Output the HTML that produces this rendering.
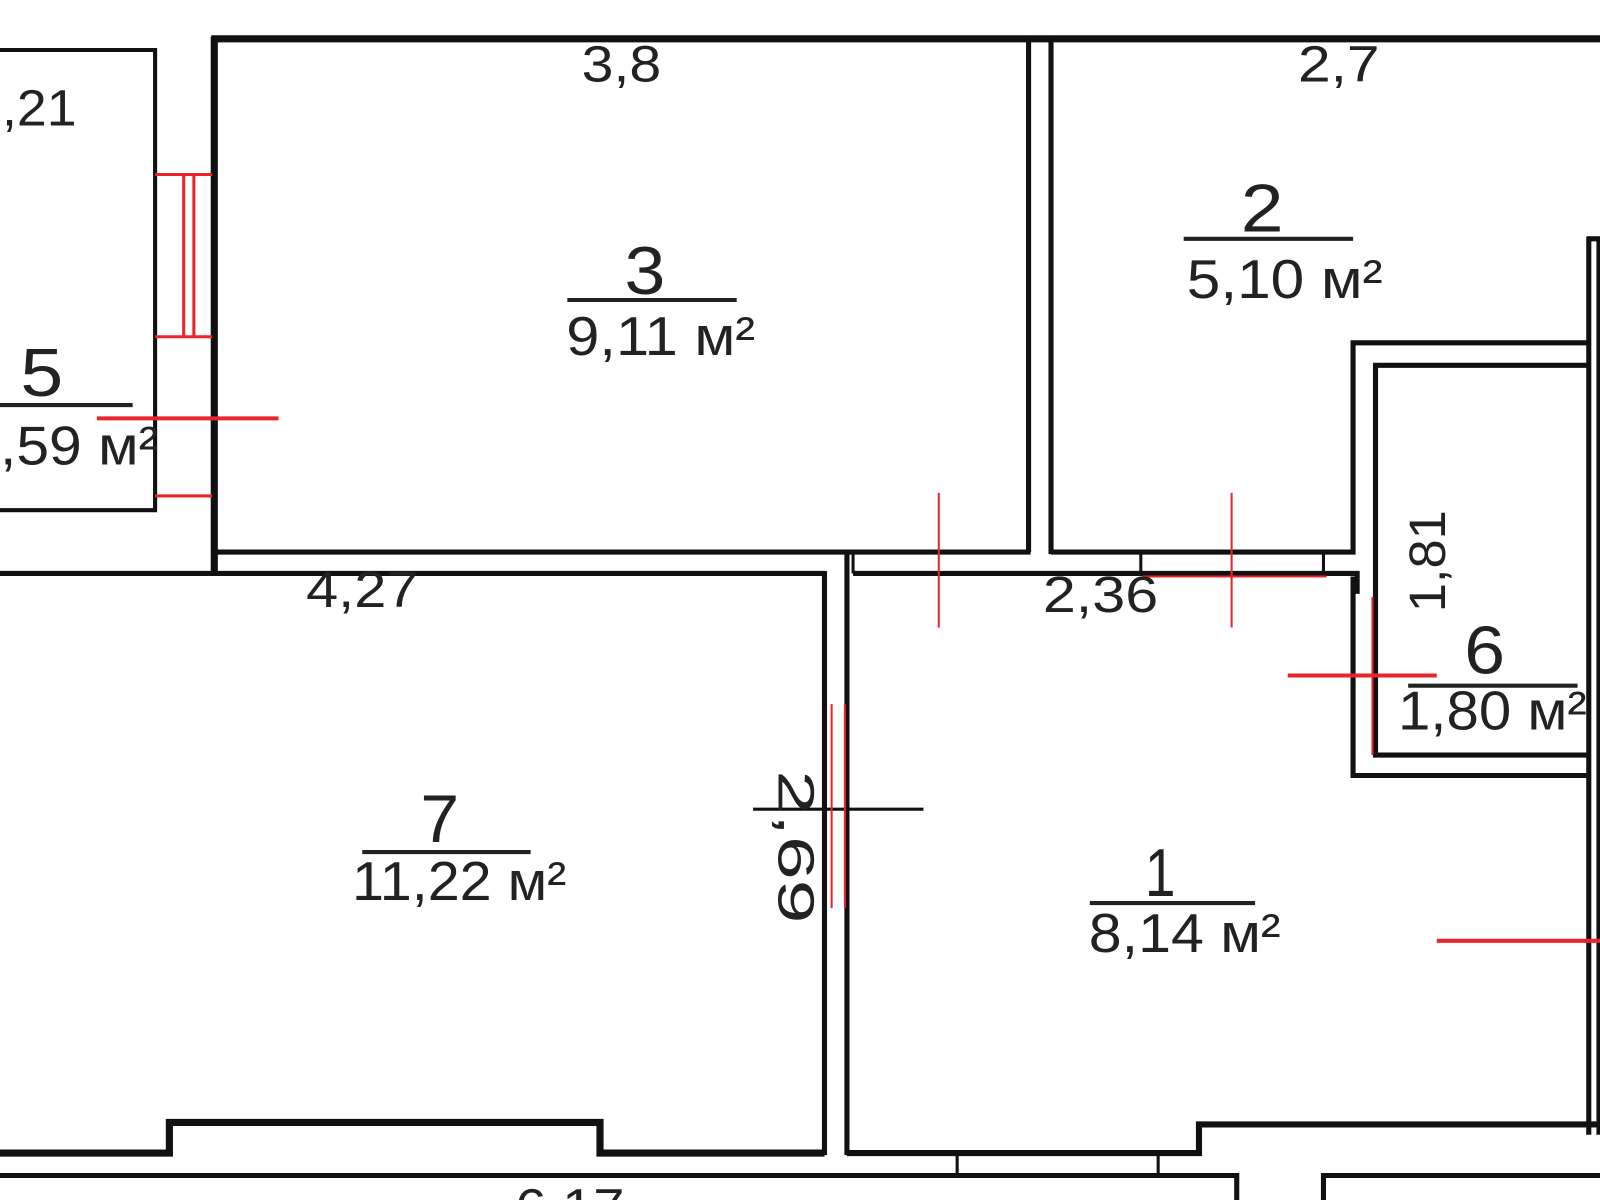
<!DOCTYPE html>
<html><head><style>
html,body{margin:0;padding:0;background:#fff;}
svg{display:block;}
text{font-family:"Liberation Sans",Arial,sans-serif;fill:#222;}
</style></head><body>
<svg width="1600" height="1200" viewBox="0 0 1568 1176" xmlns="http://www.w3.org/2000/svg">
<g stroke="#111" fill="none" stroke-width="5">
<line x1="207" y1="38" x2="1568" y2="38" stroke-width="7"/>
<line x1="210" y1="36" x2="210" y2="562" stroke-width="7"/>
<polyline points="0,49 152,49 152,500 0,500" stroke-width="4"/>
<line x1="210" y1="541" x2="1010" y2="541"/>
<line x1="1008" y1="38" x2="1008" y2="541"/>
<line x1="1030" y1="38" x2="1030" y2="543"/>
<polyline points="1030,541 1326,541 1326,336 1557,336"/>
<line x1="1557" y1="232" x2="1557" y2="1112"/>
<line x1="1567" y1="232" x2="1567" y2="1112"/>
<line x1="1555" y1="234" x2="1568" y2="234"/>
<polyline points="1557,358 1348,358 1348,740 1557,740"/>
<polyline points="1326,565 1326,760 1557,760"/>
<line x1="0" y1="562" x2="810" y2="562"/>
<line x1="808" y1="560" x2="808" y2="1132"/>
<line x1="830" y1="541" x2="830" y2="1132"/>
<polyline points="836,562 1330,562 1330,582"/>
<line x1="836" y1="541" x2="836" y2="562" stroke-width="3"/>
<line x1="1118" y1="541" x2="1118" y2="562" stroke-width="3"/>
<line x1="1297" y1="541" x2="1297" y2="562" stroke-width="3"/>
<polyline points="0,1130 166,1130 166,1100 588,1100 588,1130 808,1130" stroke-width="7"/>
<polyline points="830,1130 1175,1130 1175,1102 1568,1102" stroke-width="6"/>
<polyline points="0,1152 1212,1152 1212,1176"/>
<polyline points="1297,1176 1297,1152 1568,1152"/>
<line x1="938" y1="1130" x2="938" y2="1152" stroke-width="3"/>
<line x1="1135" y1="1130" x2="1135" y2="1152" stroke-width="3"/>
<line x1="738" y1="793" x2="905" y2="793" stroke-width="3"/>
</g>
<g stroke="#e8242c" stroke-width="3" fill="none">
<line x1="152" y1="171" x2="208" y2="171"/>
<line x1="152" y1="330" x2="208" y2="330"/>
<line x1="180" y1="171" x2="180" y2="330"/>
<line x1="190" y1="171" x2="190" y2="330"/>
<line x1="95" y1="410" x2="273" y2="410" stroke-width="4"/>
<line x1="152" y1="486" x2="208" y2="486"/>
<line x1="920" y1="483" x2="920" y2="615" stroke-width="2"/>
<line x1="1207" y1="483" x2="1207" y2="615" stroke-width="2"/>
<line x1="1120" y1="565" x2="1300" y2="565" stroke-width="2"/>
<line x1="1262" y1="662" x2="1408" y2="662" stroke-width="4"/>
<line x1="1345" y1="585" x2="1345" y2="740" stroke-width="2"/>
<line x1="815" y1="690" x2="815" y2="890" stroke-width="2"/>
<line x1="828" y1="690" x2="828" y2="890" stroke-width="2"/>
<line x1="1408" y1="922" x2="1568" y2="922" stroke-width="4"/>
</g>
<g stroke="#222" stroke-width="4">
<line x1="0" y1="397" x2="130" y2="397"/>
<line x1="556" y1="294" x2="722" y2="294"/>
<line x1="1160" y1="234" x2="1326" y2="234"/>
<line x1="1380" y1="672" x2="1546" y2="672"/>
<line x1="355" y1="835" x2="520" y2="835"/>
<line x1="1068" y1="885" x2="1230" y2="885"/>
</g>
<g font-size="50">
<text x="570" y="80" textLength="78" lengthAdjust="spacingAndGlyphs">3,8</text>
<text x="1272" y="80" textLength="80" lengthAdjust="spacingAndGlyphs">2,7</text>
<text x="2" y="123" textLength="73" lengthAdjust="spacingAndGlyphs">,21</text>
<text x="612" y="288" font-size="66" textLength="40" lengthAdjust="spacingAndGlyphs">3</text>
<text x="555" y="348" font-size="54" textLength="185" lengthAdjust="spacingAndGlyphs">9,11 м²</text>
<text x="1216" y="227" font-size="66" textLength="42" lengthAdjust="spacingAndGlyphs">2</text>
<text x="1163" y="292" font-size="54" textLength="192" lengthAdjust="spacingAndGlyphs">5,10 м²</text>
<text x="20" y="388" font-size="66" textLength="42" lengthAdjust="spacingAndGlyphs">5</text>
<text x="0" y="455" font-size="54" textLength="155" lengthAdjust="spacingAndGlyphs">,59 м²</text>
<text x="300" y="595" textLength="110" lengthAdjust="spacingAndGlyphs">4,27</text>
<text x="1022" y="600" textLength="113" lengthAdjust="spacingAndGlyphs">2,36</text>
<text x="1435" y="660" font-size="66" textLength="40" lengthAdjust="spacingAndGlyphs">6</text>
<text x="1370" y="715" font-size="54" textLength="185" lengthAdjust="spacingAndGlyphs">1,80 м²</text>
<text x="412" y="825" font-size="66" textLength="38" lengthAdjust="spacingAndGlyphs">7</text>
<text x="345" y="882" font-size="54" textLength="210" lengthAdjust="spacingAndGlyphs">11,22 м²</text>
<text x="1122" y="878" font-size="66" textLength="30" lengthAdjust="spacingAndGlyphs">1</text>
<text x="1067" y="933" font-size="54" textLength="188" lengthAdjust="spacingAndGlyphs">8,14 м²</text>
<text transform="translate(1416,600) rotate(-90)" textLength="100" lengthAdjust="spacingAndGlyphs">1,81</text>
<text transform="translate(763,755) rotate(90)" textLength="150" lengthAdjust="spacingAndGlyphs">2,69</text>
<text x="505" y="1200" textLength="107" lengthAdjust="spacingAndGlyphs">6,17</text>
</g>
</svg>
</body></html>
